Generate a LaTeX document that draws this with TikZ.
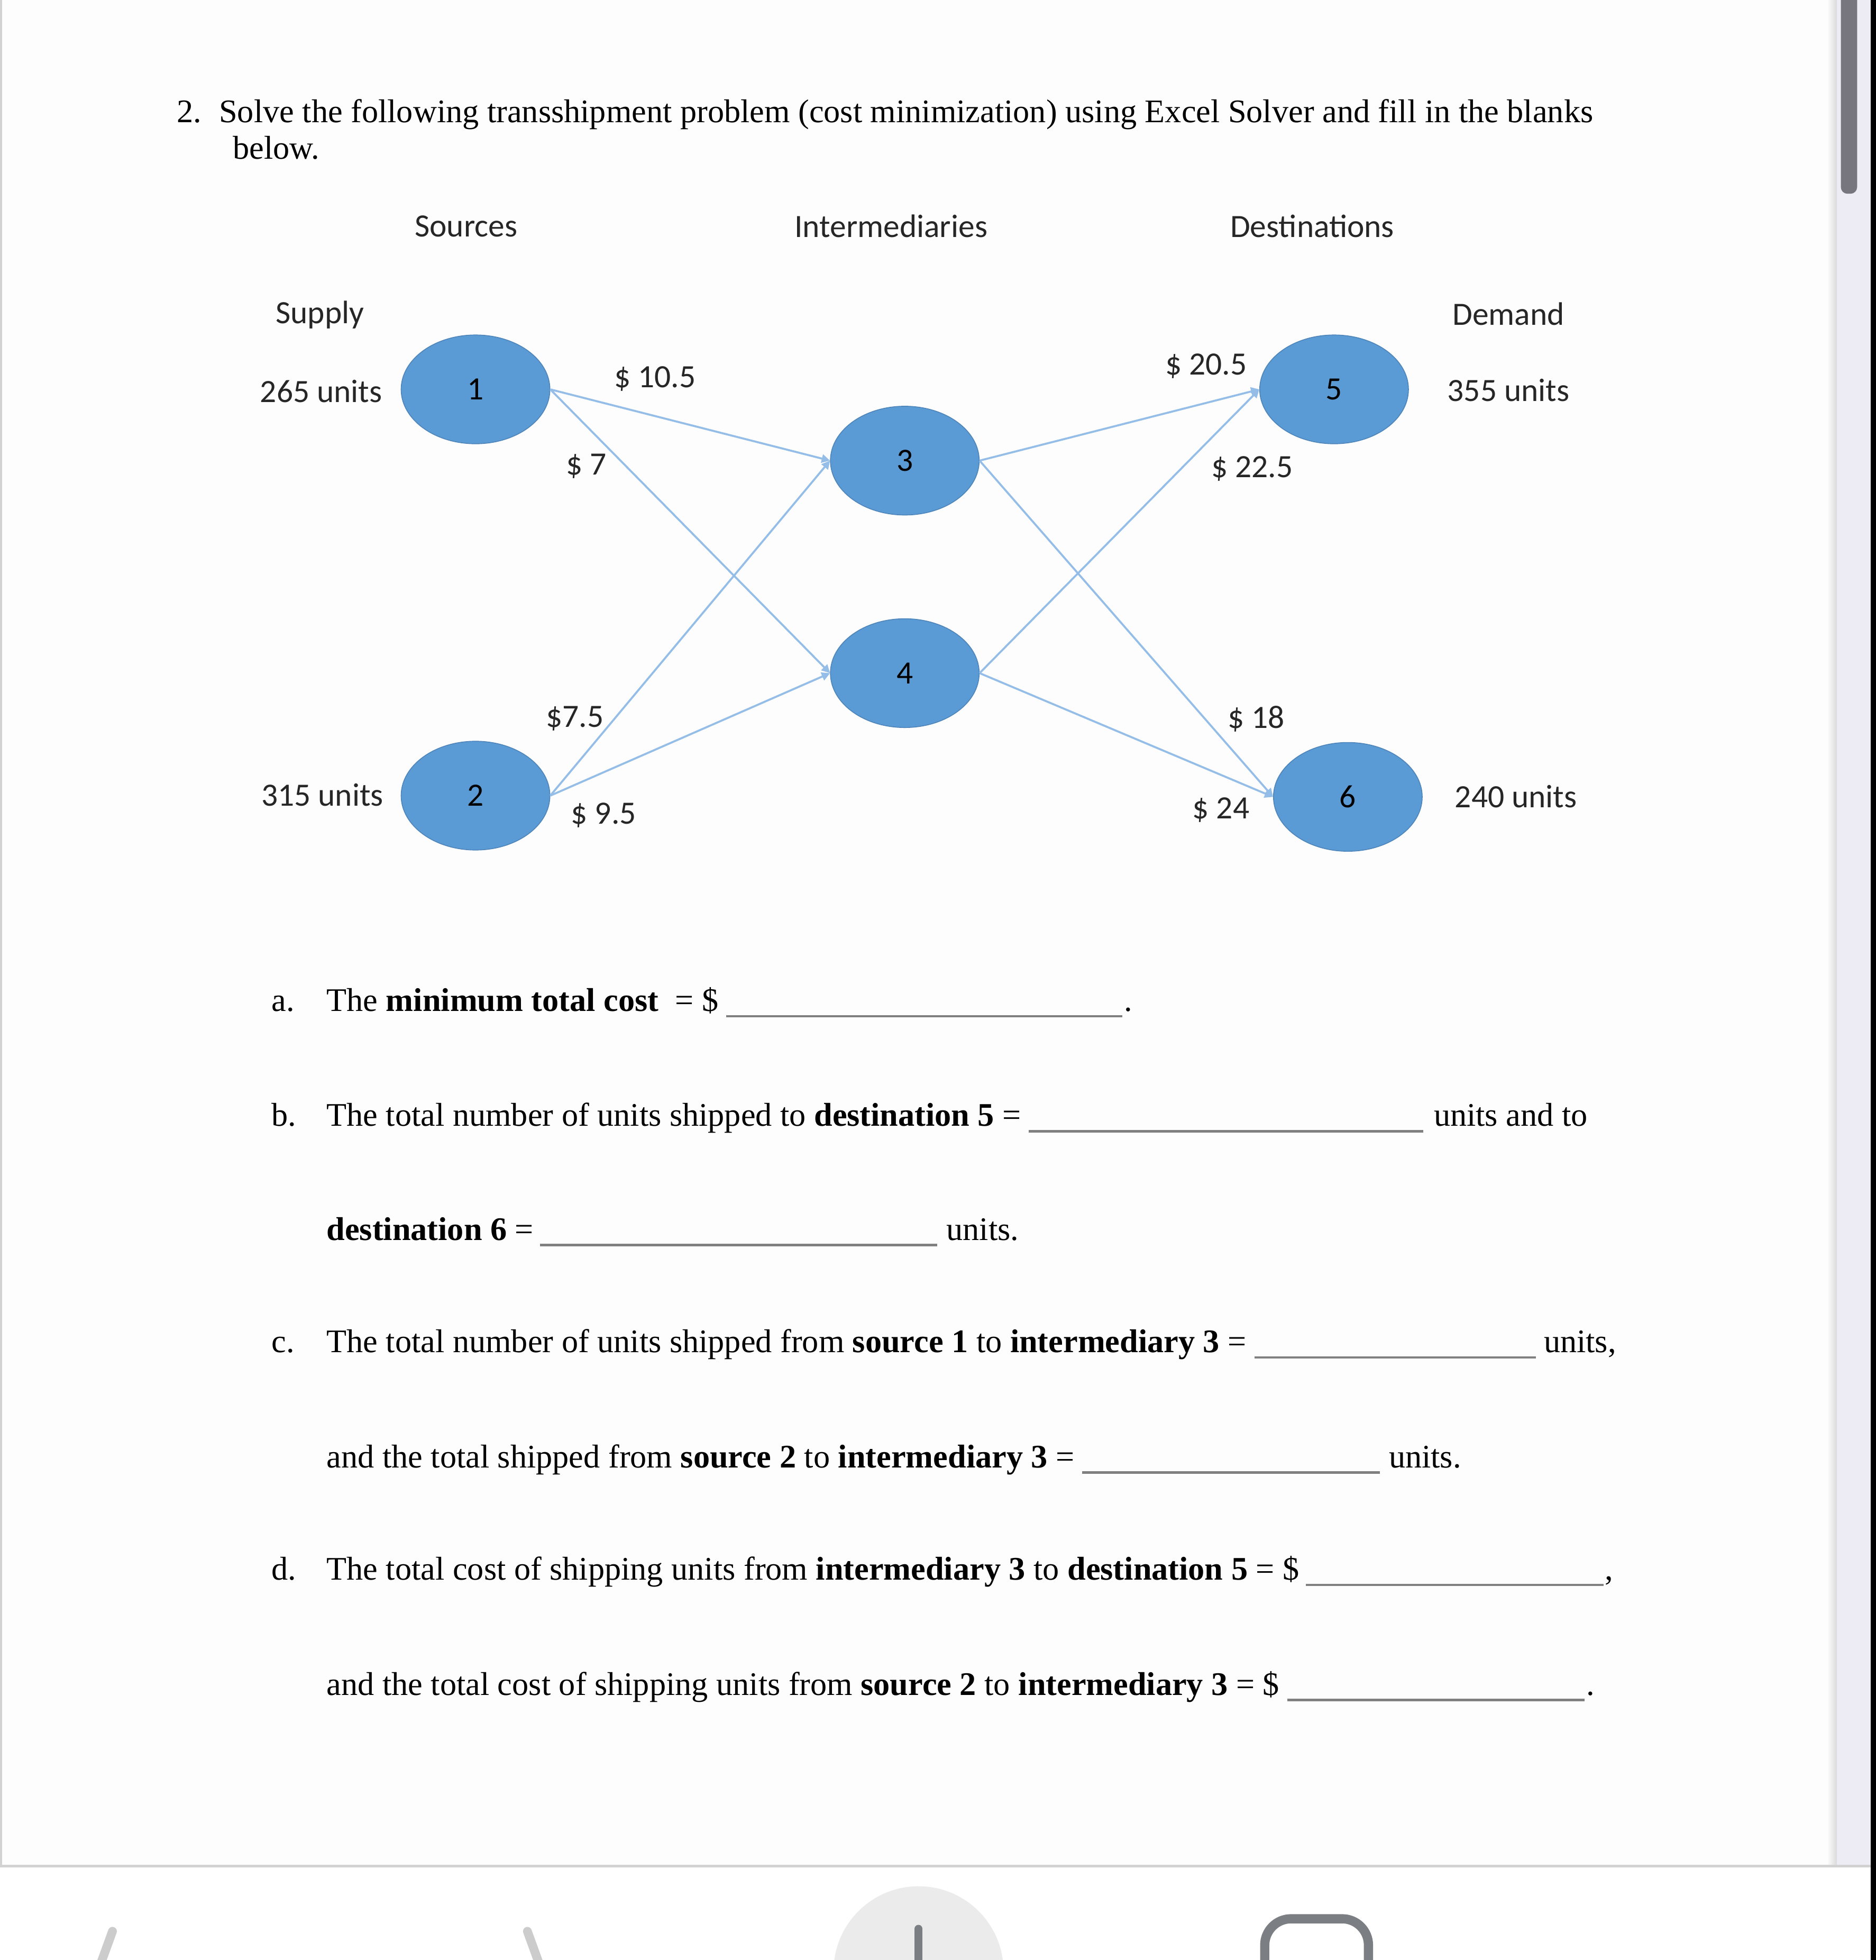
\documentclass[tikz,border=0pt]{standalone}
\usepackage{fontspec}
\setmainfont{Liberation Serif}
\newfontfamily\calibri{Carlito}
\usetikzlibrary{arrows.meta,shapes.geometric}

\definecolor{nodeblue}{HTML}{5B9BD5}
\definecolor{nodeline}{HTML}{4E86BC}
\definecolor{flowblue}{HTML}{94BEE8}
\definecolor{labelgray}{HTML}{262626}
\definecolor{pagebg}{HTML}{FDFDFD}
\definecolor{barbg}{HTML}{EDECF4}
\definecolor{thumbgray}{HTML}{77767E}
\definecolor{icongray}{HTML}{7B7F84}

\tikzset{
  stage/.style={ellipse,fill=nodeblue,draw=nodeline,line width=0.4pt,
    minimum width=2.38cm,minimum height=1.74cm,inner sep=0pt,
    font=\calibri\fontsize{14.8}{17}\selectfont,text=black},
  lbl/.style={inner sep=0pt,font=\calibri\fontsize{14.8}{17}\selectfont,text=labelgray},
  flow/.style={draw=flowblue,line width=0.9pt,-{Triangle[length=3.8pt,width=3.8pt]}},
  txt/.style={anchor=base west,inner sep=0pt,font=\fontsize{15}{17}\selectfont,text=black},
  blank/.style={draw=gray,line width=1.1pt},
}

\begin{document}
\begin{tikzpicture}[x=0.02cm,y=-0.02cm]
\useasboundingbox (0,0) rectangle (1501,1568);
% page and viewer frame
\fill[pagebg] (0,0) rectangle (1470,1493);
\draw[gray!35,line width=1pt] (1,0) -- (1,1493);
\shade[left color=pagebg,right color=gray!30] (1462,0) rectangle (1470,1493);
\fill[barbg] (1470,0) rectangle (1497,1493);
\fill[thumbgray,rounded corners=3pt] (1473,-10) rectangle (1486,155);
\fill[white] (0,1493) rectangle (1497,1568);
\draw[gray!35,line width=1.2pt] (0,1493) -- (1497,1493);
\fill[black] (1497,0) rectangle (1501,1568);
\begin{scope}
\clip (0,1494) rectangle (1497,1568);
\draw[gray!40,line width=4pt,line cap=round] (90,1545) -- (70,1600);
\draw[gray!40,line width=4pt,line cap=round] (422,1545) -- (442,1600);
\fill[gray!16] (735,1577) circle (68);
\draw[icongray,line width=3.6pt,line cap=round] (735,1543) -- (735,1600);
\draw[icongray,line width=4.2pt,rounded corners=12pt] (1012,1600) -- (1012,1535) -- (1095,1535) -- (1095,1600);
\end{scope}

% question
\node[txt] (qnum) at (141,98) {2.};
\node[txt] (q1) at (175,98) {Solve the following transshipment problem (cost minimization) using Excel Solver and fill in the blanks};
\node[txt] (q2) at (186,127) {below.};

% network
\node[lbl] (hsrc) at (373,181) {Sources};
\node[lbl] (hmid) at (713,181) {Intermediaries};
\node[lbl] (hdst) at (1050,181) {Destinations};
\node[lbl] (hsup) at (256,252) {Supply};
\node[lbl] (hdem) at (1207,251) {Demand};

\node[stage] (n1) at (380.5,311.5) {1};
\node[stage] (n2) at (380.5,636.5) {2};
\node[stage] (n3) at (724,368.5) {3};
\node[stage] (n4) at (724,538.5) {4};
\node[stage] (n5) at (1067.5,311.5) {5};
\node[stage] (n6) at (1078.5,637.5) {6};

\node[lbl] (s1) at (257,313) {265 units};
\node[lbl] (s2) at (258,636) {315 units};
\node[lbl] (d5) at (1207,312) {355 units};
\node[lbl] (d6) at (1213,637) {240 units};

\draw[flow] (n1.east) -- (n3.west);
\draw[flow] (n1.east) -- (n4.west);
\draw[flow] (n2.east) -- (n3.west);
\draw[flow] (n2.east) -- (n4.west);
\draw[flow] (n3.east) -- (n5.west);
\draw[flow] (n3.east) -- (n6.west);
\draw[flow] (n4.east) -- (n5.west);
\draw[flow] (n4.east) -- (n6.west);

\node[lbl] (c13) at (524,303) {\$ 10.5};
\node[lbl] (c14) at (469,373) {\$ 7};
\node[lbl] (c23) at (460,575) {\$7.5};
\node[lbl] (c24) at (483,652) {\$ 9.5};
\node[lbl] (c35) at (965,293) {\$ 20.5};
\node[lbl] (c45) at (1002,375) {\$ 22.5};
\node[lbl] (c36) at (1005,575) {\$ 18};
\node[lbl] (c46) at (977,648) {\$ 24};

% blanks
\node[txt] (pa) at (217,809) {a.};
\node[txt] (ta) at (261,809) {The \textbf{minimum total cost} \ = \$};
\draw[blank] (581,813) -- (898,813);
\node[txt] (ea) at (899,809) {.};

\node[txt] (pb) at (217,901) {b.};
\node[txt] (tb) at (261,901) {The total number of units shipped to \textbf{destination 5} =};
\draw[blank] (823,905) -- (1139,905);
\node[txt] (eb) at (1147,901) {units and to};
\node[txt] (tb2) at (261,992) {\textbf{destination 6} =};
\draw[blank] (432,996) -- (750,996);
\node[txt] (eb2) at (757,992) {units.};

\node[txt] (pc) at (217,1082) {c.};
\node[txt] (tc) at (261,1082) {The total number of units shipped from \textbf{source 1} to \textbf{intermediary 3} =};
\draw[blank] (1004,1086) -- (1229,1086);
\node[txt] (ec) at (1235,1082) {units,};
\node[txt] (tc2) at (261,1174) {and the total shipped from \textbf{source 2} to \textbf{intermediary 3} =};
\draw[blank] (866,1178) -- (1104,1178);
\node[txt] (ec2) at (1111,1174) {units.};

\node[txt] (pd) at (217,1264) {d.};
\node[txt] (td) at (261,1264) {The total cost of shipping units from \textbf{intermediary 3} to \textbf{destination 5} = \$};
\draw[blank] (1045,1268) -- (1283,1268);
\node[txt] (ed) at (1284,1264) {,};
\node[txt] (td2) at (261,1356) {and the total cost of shipping units from \textbf{source 2} to \textbf{intermediary 3} = \$};
\draw[blank] (1030,1360) -- (1268,1360);
\node[txt] (ed2) at (1269,1356) {.};
\end{tikzpicture}
\end{document}
